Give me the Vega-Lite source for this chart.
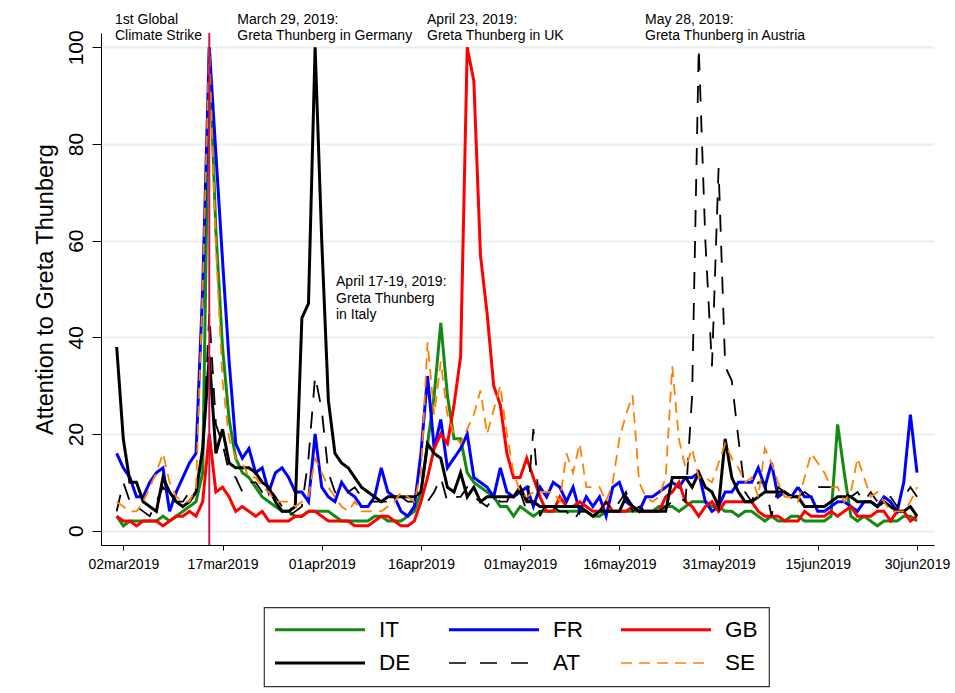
{
"$schema":"https://vega.github.io/schema/vega-lite/v6.json",
"width":833,"height":512,
"autosize":{"type":"none"},
"padding":{"left":101,"top":33,"right":21,"bottom":148},
"background":"white",
"config":{"view":{"stroke":null},"font":"Liberation Sans",
 "legend":{"orient":"none","legendX":163,"legendY":574.3,"direction":"horizontal","columns":3,"symbolType":"M-9,0H9","symbolSize":100,"symbolOffset":33.75,"labelOffset":47.7,"labelFontSize":22.5,"labelColor":"black","labelFont":"Liberation Sans","columnPadding":32,"rowPadding":10.5,"padding":11,"strokeColor":"#333333","strokeWidth":1.2,"symbolStrokeWidth":3,"gridAlign":"each"}},
"datasets":{
"series":[
{"date":"2019-03-01","country":"IT","value":3},{"date":"2019-03-02","country":"IT","value":1},{"date":"2019-03-03","country":"IT","value":2},{"date":"2019-03-04","country":"IT","value":2},{"date":"2019-03-05","country":"IT","value":2},{"date":"2019-03-06","country":"IT","value":2},{"date":"2019-03-07","country":"IT","value":2},{"date":"2019-03-08","country":"IT","value":3},{"date":"2019-03-09","country":"IT","value":2},{"date":"2019-03-10","country":"IT","value":3},
{"date":"2019-03-11","country":"IT","value":4},{"date":"2019-03-12","country":"IT","value":5},{"date":"2019-03-13","country":"IT","value":6},{"date":"2019-03-14","country":"IT","value":12},{"date":"2019-03-15","country":"IT","value":100},{"date":"2019-03-16","country":"IT","value":62},{"date":"2019-03-17","country":"IT","value":38},{"date":"2019-03-18","country":"IT","value":23},{"date":"2019-03-19","country":"IT","value":15},{"date":"2019-03-20","country":"IT","value":12},
{"date":"2019-03-21","country":"IT","value":11},{"date":"2019-03-22","country":"IT","value":9},{"date":"2019-03-23","country":"IT","value":7},{"date":"2019-03-24","country":"IT","value":6},{"date":"2019-03-25","country":"IT","value":5},{"date":"2019-03-26","country":"IT","value":4},{"date":"2019-03-27","country":"IT","value":4},{"date":"2019-03-28","country":"IT","value":3},{"date":"2019-03-29","country":"IT","value":3},{"date":"2019-03-30","country":"IT","value":4},
{"date":"2019-03-31","country":"IT","value":4},{"date":"2019-04-01","country":"IT","value":4},{"date":"2019-04-02","country":"IT","value":4},{"date":"2019-04-03","country":"IT","value":3},{"date":"2019-04-04","country":"IT","value":2},{"date":"2019-04-05","country":"IT","value":2},{"date":"2019-04-06","country":"IT","value":2},{"date":"2019-04-07","country":"IT","value":2},{"date":"2019-04-08","country":"IT","value":2},{"date":"2019-04-09","country":"IT","value":3},
{"date":"2019-04-10","country":"IT","value":3},{"date":"2019-04-11","country":"IT","value":2},{"date":"2019-04-12","country":"IT","value":2},{"date":"2019-04-13","country":"IT","value":2},{"date":"2019-04-14","country":"IT","value":3},{"date":"2019-04-15","country":"IT","value":4},{"date":"2019-04-16","country":"IT","value":8},{"date":"2019-04-17","country":"IT","value":18},{"date":"2019-04-18","country":"IT","value":28},{"date":"2019-04-19","country":"IT","value":43},
{"date":"2019-04-20","country":"IT","value":28},{"date":"2019-04-21","country":"IT","value":19},{"date":"2019-04-22","country":"IT","value":19},{"date":"2019-04-23","country":"IT","value":12},{"date":"2019-04-24","country":"IT","value":10},{"date":"2019-04-25","country":"IT","value":9},{"date":"2019-04-26","country":"IT","value":8},{"date":"2019-04-27","country":"IT","value":7},{"date":"2019-04-28","country":"IT","value":5},{"date":"2019-04-29","country":"IT","value":5},
{"date":"2019-04-30","country":"IT","value":3},{"date":"2019-05-01","country":"IT","value":5},{"date":"2019-05-02","country":"IT","value":4},{"date":"2019-05-03","country":"IT","value":3},{"date":"2019-05-04","country":"IT","value":4},{"date":"2019-05-05","country":"IT","value":4},{"date":"2019-05-06","country":"IT","value":4},{"date":"2019-05-07","country":"IT","value":4},{"date":"2019-05-08","country":"IT","value":4},{"date":"2019-05-09","country":"IT","value":4},
{"date":"2019-05-10","country":"IT","value":4},{"date":"2019-05-11","country":"IT","value":4},{"date":"2019-05-12","country":"IT","value":3},{"date":"2019-05-13","country":"IT","value":3},{"date":"2019-05-14","country":"IT","value":4},{"date":"2019-05-15","country":"IT","value":4},{"date":"2019-05-16","country":"IT","value":4},{"date":"2019-05-17","country":"IT","value":4},{"date":"2019-05-18","country":"IT","value":4},{"date":"2019-05-19","country":"IT","value":4},
{"date":"2019-05-20","country":"IT","value":4},{"date":"2019-05-21","country":"IT","value":4},{"date":"2019-05-22","country":"IT","value":5},{"date":"2019-05-23","country":"IT","value":5},{"date":"2019-05-24","country":"IT","value":5},{"date":"2019-05-25","country":"IT","value":4},{"date":"2019-05-26","country":"IT","value":5},{"date":"2019-05-27","country":"IT","value":6},{"date":"2019-05-28","country":"IT","value":6},{"date":"2019-05-29","country":"IT","value":6},
{"date":"2019-05-30","country":"IT","value":5},{"date":"2019-05-31","country":"IT","value":5},{"date":"2019-06-01","country":"IT","value":4},{"date":"2019-06-02","country":"IT","value":4},{"date":"2019-06-03","country":"IT","value":3},{"date":"2019-06-04","country":"IT","value":4},{"date":"2019-06-05","country":"IT","value":4},{"date":"2019-06-06","country":"IT","value":3},{"date":"2019-06-07","country":"IT","value":2},{"date":"2019-06-08","country":"IT","value":3},
{"date":"2019-06-09","country":"IT","value":2},{"date":"2019-06-10","country":"IT","value":2},{"date":"2019-06-11","country":"IT","value":3},{"date":"2019-06-12","country":"IT","value":3},{"date":"2019-06-13","country":"IT","value":2},{"date":"2019-06-14","country":"IT","value":2},{"date":"2019-06-15","country":"IT","value":2},{"date":"2019-06-16","country":"IT","value":2},{"date":"2019-06-17","country":"IT","value":3},{"date":"2019-06-18","country":"IT","value":22},
{"date":"2019-06-19","country":"IT","value":12},{"date":"2019-06-20","country":"IT","value":3},{"date":"2019-06-21","country":"IT","value":2},{"date":"2019-06-22","country":"IT","value":3},{"date":"2019-06-23","country":"IT","value":2},{"date":"2019-06-24","country":"IT","value":1},{"date":"2019-06-25","country":"IT","value":2},{"date":"2019-06-26","country":"IT","value":2},{"date":"2019-06-27","country":"IT","value":2},{"date":"2019-06-28","country":"IT","value":3},
{"date":"2019-06-29","country":"IT","value":3},{"date":"2019-06-30","country":"IT","value":2},
{"date":"2019-03-01","country":"FR","value":16},{"date":"2019-03-02","country":"FR","value":13},{"date":"2019-03-03","country":"FR","value":11},{"date":"2019-03-04","country":"FR","value":7},{"date":"2019-03-05","country":"FR","value":7},{"date":"2019-03-06","country":"FR","value":10},{"date":"2019-03-07","country":"FR","value":12},{"date":"2019-03-08","country":"FR","value":13},{"date":"2019-03-09","country":"FR","value":4},{"date":"2019-03-10","country":"FR","value":8},
{"date":"2019-03-11","country":"FR","value":11},{"date":"2019-03-12","country":"FR","value":14},{"date":"2019-03-13","country":"FR","value":16},{"date":"2019-03-14","country":"FR","value":50},{"date":"2019-03-15","country":"FR","value":100},{"date":"2019-03-16","country":"FR","value":78},{"date":"2019-03-17","country":"FR","value":56},{"date":"2019-03-18","country":"FR","value":35},{"date":"2019-03-19","country":"FR","value":18},{"date":"2019-03-20","country":"FR","value":15},
{"date":"2019-03-21","country":"FR","value":17},{"date":"2019-03-22","country":"FR","value":12},{"date":"2019-03-23","country":"FR","value":13},{"date":"2019-03-24","country":"FR","value":8},{"date":"2019-03-25","country":"FR","value":12},{"date":"2019-03-26","country":"FR","value":13},{"date":"2019-03-27","country":"FR","value":11},{"date":"2019-03-28","country":"FR","value":8},{"date":"2019-03-29","country":"FR","value":8},{"date":"2019-03-30","country":"FR","value":6},
{"date":"2019-03-31","country":"FR","value":20},{"date":"2019-04-01","country":"FR","value":9},{"date":"2019-04-02","country":"FR","value":7},{"date":"2019-04-03","country":"FR","value":6},{"date":"2019-04-04","country":"FR","value":10},{"date":"2019-04-05","country":"FR","value":8},{"date":"2019-04-06","country":"FR","value":7},{"date":"2019-04-07","country":"FR","value":5},{"date":"2019-04-08","country":"FR","value":5},{"date":"2019-04-09","country":"FR","value":7},
{"date":"2019-04-10","country":"FR","value":13},{"date":"2019-04-11","country":"FR","value":8},{"date":"2019-04-12","country":"FR","value":7},{"date":"2019-04-13","country":"FR","value":4},{"date":"2019-04-14","country":"FR","value":3},{"date":"2019-04-15","country":"FR","value":5},{"date":"2019-04-16","country":"FR","value":16},{"date":"2019-04-17","country":"FR","value":32},{"date":"2019-04-18","country":"FR","value":17},{"date":"2019-04-19","country":"FR","value":23},
{"date":"2019-04-20","country":"FR","value":13},{"date":"2019-04-21","country":"FR","value":15},{"date":"2019-04-22","country":"FR","value":17},{"date":"2019-04-23","country":"FR","value":20},{"date":"2019-04-24","country":"FR","value":11},{"date":"2019-04-25","country":"FR","value":10},{"date":"2019-04-26","country":"FR","value":9},{"date":"2019-04-27","country":"FR","value":7},{"date":"2019-04-28","country":"FR","value":13},{"date":"2019-04-29","country":"FR","value":8},
{"date":"2019-04-30","country":"FR","value":7},{"date":"2019-05-01","country":"FR","value":8},{"date":"2019-05-02","country":"FR","value":9},{"date":"2019-05-03","country":"FR","value":5},{"date":"2019-05-04","country":"FR","value":9},{"date":"2019-05-05","country":"FR","value":7},{"date":"2019-05-06","country":"FR","value":10},{"date":"2019-05-07","country":"FR","value":9},{"date":"2019-05-08","country":"FR","value":6},{"date":"2019-05-09","country":"FR","value":9},
{"date":"2019-05-10","country":"FR","value":4},{"date":"2019-05-11","country":"FR","value":7},{"date":"2019-05-12","country":"FR","value":5},{"date":"2019-05-13","country":"FR","value":7},{"date":"2019-05-14","country":"FR","value":3},{"date":"2019-05-15","country":"FR","value":9},{"date":"2019-05-16","country":"FR","value":10},{"date":"2019-05-17","country":"FR","value":6},{"date":"2019-05-18","country":"FR","value":5},{"date":"2019-05-19","country":"FR","value":4},
{"date":"2019-05-20","country":"FR","value":7},{"date":"2019-05-21","country":"FR","value":7},{"date":"2019-05-22","country":"FR","value":8},{"date":"2019-05-23","country":"FR","value":9},{"date":"2019-05-24","country":"FR","value":10},{"date":"2019-05-25","country":"FR","value":9},{"date":"2019-05-26","country":"FR","value":11},{"date":"2019-05-27","country":"FR","value":11},{"date":"2019-05-28","country":"FR","value":12},{"date":"2019-05-29","country":"FR","value":6},
{"date":"2019-05-30","country":"FR","value":4},{"date":"2019-05-31","country":"FR","value":5},{"date":"2019-06-01","country":"FR","value":8},{"date":"2019-06-02","country":"FR","value":8},{"date":"2019-06-03","country":"FR","value":10},{"date":"2019-06-04","country":"FR","value":10},{"date":"2019-06-05","country":"FR","value":10},{"date":"2019-06-06","country":"FR","value":13},{"date":"2019-06-07","country":"FR","value":9},{"date":"2019-06-08","country":"FR","value":14},
{"date":"2019-06-09","country":"FR","value":7},{"date":"2019-06-10","country":"FR","value":8},{"date":"2019-06-11","country":"FR","value":7},{"date":"2019-06-12","country":"FR","value":9},{"date":"2019-06-13","country":"FR","value":7},{"date":"2019-06-14","country":"FR","value":7},{"date":"2019-06-15","country":"FR","value":4},{"date":"2019-06-16","country":"FR","value":4},{"date":"2019-06-17","country":"FR","value":5},{"date":"2019-06-18","country":"FR","value":6},
{"date":"2019-06-19","country":"FR","value":6},{"date":"2019-06-20","country":"FR","value":5},{"date":"2019-06-21","country":"FR","value":4},{"date":"2019-06-22","country":"FR","value":6},{"date":"2019-06-23","country":"FR","value":6},{"date":"2019-06-24","country":"FR","value":5},{"date":"2019-06-25","country":"FR","value":7},{"date":"2019-06-26","country":"FR","value":6},{"date":"2019-06-27","country":"FR","value":4},{"date":"2019-06-28","country":"FR","value":10},
{"date":"2019-06-29","country":"FR","value":24},{"date":"2019-06-30","country":"FR","value":12},
{"date":"2019-03-01","country":"GB","value":3},{"date":"2019-03-02","country":"GB","value":2},{"date":"2019-03-03","country":"GB","value":2},{"date":"2019-03-04","country":"GB","value":1},{"date":"2019-03-05","country":"GB","value":2},{"date":"2019-03-06","country":"GB","value":2},{"date":"2019-03-07","country":"GB","value":2},{"date":"2019-03-08","country":"GB","value":1},{"date":"2019-03-09","country":"GB","value":2},{"date":"2019-03-10","country":"GB","value":3},
{"date":"2019-03-11","country":"GB","value":3},{"date":"2019-03-12","country":"GB","value":4},{"date":"2019-03-13","country":"GB","value":3},{"date":"2019-03-14","country":"GB","value":6},{"date":"2019-03-15","country":"GB","value":20},{"date":"2019-03-16","country":"GB","value":8},{"date":"2019-03-17","country":"GB","value":9},{"date":"2019-03-18","country":"GB","value":7},{"date":"2019-03-19","country":"GB","value":4},{"date":"2019-03-20","country":"GB","value":5},
{"date":"2019-03-21","country":"GB","value":4},{"date":"2019-03-22","country":"GB","value":3},{"date":"2019-03-23","country":"GB","value":4},{"date":"2019-03-24","country":"GB","value":2},{"date":"2019-03-25","country":"GB","value":2},{"date":"2019-03-26","country":"GB","value":2},{"date":"2019-03-27","country":"GB","value":2},{"date":"2019-03-28","country":"GB","value":3},{"date":"2019-03-29","country":"GB","value":3},{"date":"2019-03-30","country":"GB","value":4},
{"date":"2019-03-31","country":"GB","value":4},{"date":"2019-04-01","country":"GB","value":3},{"date":"2019-04-02","country":"GB","value":2},{"date":"2019-04-03","country":"GB","value":2},{"date":"2019-04-04","country":"GB","value":2},{"date":"2019-04-05","country":"GB","value":2},{"date":"2019-04-06","country":"GB","value":1},{"date":"2019-04-07","country":"GB","value":1},{"date":"2019-04-08","country":"GB","value":1},{"date":"2019-04-09","country":"GB","value":2},
{"date":"2019-04-10","country":"GB","value":3},{"date":"2019-04-11","country":"GB","value":3},{"date":"2019-04-12","country":"GB","value":2},{"date":"2019-04-13","country":"GB","value":1},{"date":"2019-04-14","country":"GB","value":1},{"date":"2019-04-15","country":"GB","value":2},{"date":"2019-04-16","country":"GB","value":6},{"date":"2019-04-17","country":"GB","value":11},{"date":"2019-04-18","country":"GB","value":17},{"date":"2019-04-19","country":"GB","value":20},
{"date":"2019-04-20","country":"GB","value":18},{"date":"2019-04-21","country":"GB","value":26},{"date":"2019-04-22","country":"GB","value":36},{"date":"2019-04-23","country":"GB","value":100},{"date":"2019-04-24","country":"GB","value":93},{"date":"2019-04-25","country":"GB","value":57},{"date":"2019-04-26","country":"GB","value":45},{"date":"2019-04-27","country":"GB","value":30},{"date":"2019-04-28","country":"GB","value":26},{"date":"2019-04-29","country":"GB","value":16},
{"date":"2019-04-30","country":"GB","value":11},{"date":"2019-05-01","country":"GB","value":11},{"date":"2019-05-02","country":"GB","value":15},{"date":"2019-05-03","country":"GB","value":11},{"date":"2019-05-04","country":"GB","value":7},{"date":"2019-05-05","country":"GB","value":4},{"date":"2019-05-06","country":"GB","value":4},{"date":"2019-05-07","country":"GB","value":7},{"date":"2019-05-08","country":"GB","value":5},{"date":"2019-05-09","country":"GB","value":5},
{"date":"2019-05-10","country":"GB","value":6},{"date":"2019-05-11","country":"GB","value":5},{"date":"2019-05-12","country":"GB","value":4},{"date":"2019-05-13","country":"GB","value":4},{"date":"2019-05-14","country":"GB","value":6},{"date":"2019-05-15","country":"GB","value":4},{"date":"2019-05-16","country":"GB","value":4},{"date":"2019-05-17","country":"GB","value":4},{"date":"2019-05-18","country":"GB","value":5},{"date":"2019-05-19","country":"GB","value":4},
{"date":"2019-05-20","country":"GB","value":4},{"date":"2019-05-21","country":"GB","value":4},{"date":"2019-05-22","country":"GB","value":4},{"date":"2019-05-23","country":"GB","value":7},{"date":"2019-05-24","country":"GB","value":8},{"date":"2019-05-25","country":"GB","value":10},{"date":"2019-05-26","country":"GB","value":6},{"date":"2019-05-27","country":"GB","value":5},{"date":"2019-05-28","country":"GB","value":3},{"date":"2019-05-29","country":"GB","value":5},
{"date":"2019-05-30","country":"GB","value":6},{"date":"2019-05-31","country":"GB","value":4},{"date":"2019-06-01","country":"GB","value":6},{"date":"2019-06-02","country":"GB","value":6},{"date":"2019-06-03","country":"GB","value":6},{"date":"2019-06-04","country":"GB","value":6},{"date":"2019-06-05","country":"GB","value":6},{"date":"2019-06-06","country":"GB","value":4},{"date":"2019-06-07","country":"GB","value":3},{"date":"2019-06-08","country":"GB","value":3},
{"date":"2019-06-09","country":"GB","value":3},{"date":"2019-06-10","country":"GB","value":2},{"date":"2019-06-11","country":"GB","value":2},{"date":"2019-06-12","country":"GB","value":2},{"date":"2019-06-13","country":"GB","value":4},{"date":"2019-06-14","country":"GB","value":3},{"date":"2019-06-15","country":"GB","value":3},{"date":"2019-06-16","country":"GB","value":3},{"date":"2019-06-17","country":"GB","value":4},{"date":"2019-06-18","country":"GB","value":3},
{"date":"2019-06-19","country":"GB","value":4},{"date":"2019-06-20","country":"GB","value":5},{"date":"2019-06-21","country":"GB","value":3},{"date":"2019-06-22","country":"GB","value":3},{"date":"2019-06-23","country":"GB","value":3},{"date":"2019-06-24","country":"GB","value":4},{"date":"2019-06-25","country":"GB","value":4},{"date":"2019-06-26","country":"GB","value":2},{"date":"2019-06-27","country":"GB","value":4},{"date":"2019-06-28","country":"GB","value":4},
{"date":"2019-06-29","country":"GB","value":2},{"date":"2019-06-30","country":"GB","value":3},
{"date":"2019-03-01","country":"DE","value":38},{"date":"2019-03-02","country":"DE","value":19},{"date":"2019-03-03","country":"DE","value":10},{"date":"2019-03-04","country":"DE","value":10},{"date":"2019-03-05","country":"DE","value":6},{"date":"2019-03-06","country":"DE","value":5},{"date":"2019-03-07","country":"DE","value":4},{"date":"2019-03-08","country":"DE","value":11},{"date":"2019-03-09","country":"DE","value":8},{"date":"2019-03-10","country":"DE","value":6},
{"date":"2019-03-11","country":"DE","value":5},{"date":"2019-03-12","country":"DE","value":6},{"date":"2019-03-13","country":"DE","value":8},{"date":"2019-03-14","country":"DE","value":17},{"date":"2019-03-15","country":"DE","value":36},{"date":"2019-03-16","country":"DE","value":16},{"date":"2019-03-17","country":"DE","value":21},{"date":"2019-03-18","country":"DE","value":14},{"date":"2019-03-19","country":"DE","value":13},{"date":"2019-03-20","country":"DE","value":13},
{"date":"2019-03-21","country":"DE","value":13},{"date":"2019-03-22","country":"DE","value":12},{"date":"2019-03-23","country":"DE","value":10},{"date":"2019-03-24","country":"DE","value":9},{"date":"2019-03-25","country":"DE","value":6},{"date":"2019-03-26","country":"DE","value":4},{"date":"2019-03-27","country":"DE","value":4},{"date":"2019-03-28","country":"DE","value":5},{"date":"2019-03-29","country":"DE","value":44},{"date":"2019-03-30","country":"DE","value":47},
{"date":"2019-03-31","country":"DE","value":100},{"date":"2019-04-01","country":"DE","value":60},{"date":"2019-04-02","country":"DE","value":27},{"date":"2019-04-03","country":"DE","value":16},{"date":"2019-04-04","country":"DE","value":14},{"date":"2019-04-05","country":"DE","value":13},{"date":"2019-04-06","country":"DE","value":11},{"date":"2019-04-07","country":"DE","value":9},{"date":"2019-04-08","country":"DE","value":8},{"date":"2019-04-09","country":"DE","value":7},
{"date":"2019-04-10","country":"DE","value":6},{"date":"2019-04-11","country":"DE","value":7},{"date":"2019-04-12","country":"DE","value":7},{"date":"2019-04-13","country":"DE","value":7},{"date":"2019-04-14","country":"DE","value":7},{"date":"2019-04-15","country":"DE","value":7},{"date":"2019-04-16","country":"DE","value":8},{"date":"2019-04-17","country":"DE","value":18},{"date":"2019-04-18","country":"DE","value":16},{"date":"2019-04-19","country":"DE","value":15},
{"date":"2019-04-20","country":"DE","value":9},{"date":"2019-04-21","country":"DE","value":8},{"date":"2019-04-22","country":"DE","value":12},{"date":"2019-04-23","country":"DE","value":7},{"date":"2019-04-24","country":"DE","value":9},{"date":"2019-04-25","country":"DE","value":6},{"date":"2019-04-26","country":"DE","value":7},{"date":"2019-04-27","country":"DE","value":7},{"date":"2019-04-28","country":"DE","value":7},{"date":"2019-04-29","country":"DE","value":7},
{"date":"2019-04-30","country":"DE","value":7},{"date":"2019-05-01","country":"DE","value":9},{"date":"2019-05-02","country":"DE","value":6},{"date":"2019-05-03","country":"DE","value":6},{"date":"2019-05-04","country":"DE","value":5},{"date":"2019-05-05","country":"DE","value":5},{"date":"2019-05-06","country":"DE","value":5},{"date":"2019-05-07","country":"DE","value":5},{"date":"2019-05-08","country":"DE","value":5},{"date":"2019-05-09","country":"DE","value":5},
{"date":"2019-05-10","country":"DE","value":5},{"date":"2019-05-11","country":"DE","value":4},{"date":"2019-05-12","country":"DE","value":3},{"date":"2019-05-13","country":"DE","value":4},{"date":"2019-05-14","country":"DE","value":4},{"date":"2019-05-15","country":"DE","value":4},{"date":"2019-05-16","country":"DE","value":4},{"date":"2019-05-17","country":"DE","value":7},{"date":"2019-05-18","country":"DE","value":5},{"date":"2019-05-19","country":"DE","value":4},
{"date":"2019-05-20","country":"DE","value":4},{"date":"2019-05-21","country":"DE","value":4},{"date":"2019-05-22","country":"DE","value":4},{"date":"2019-05-23","country":"DE","value":4},{"date":"2019-05-24","country":"DE","value":11},{"date":"2019-05-25","country":"DE","value":11},{"date":"2019-05-26","country":"DE","value":11},{"date":"2019-05-27","country":"DE","value":9},{"date":"2019-05-28","country":"DE","value":12},{"date":"2019-05-29","country":"DE","value":9},
{"date":"2019-05-30","country":"DE","value":8},{"date":"2019-05-31","country":"DE","value":5},{"date":"2019-06-01","country":"DE","value":19},{"date":"2019-06-02","country":"DE","value":11},{"date":"2019-06-03","country":"DE","value":8},{"date":"2019-06-04","country":"DE","value":6},{"date":"2019-06-05","country":"DE","value":6},{"date":"2019-06-06","country":"DE","value":7},{"date":"2019-06-07","country":"DE","value":8},{"date":"2019-06-08","country":"DE","value":8},
{"date":"2019-06-09","country":"DE","value":8},{"date":"2019-06-10","country":"DE","value":8},{"date":"2019-06-11","country":"DE","value":7},{"date":"2019-06-12","country":"DE","value":7},{"date":"2019-06-13","country":"DE","value":5},{"date":"2019-06-14","country":"DE","value":5},{"date":"2019-06-15","country":"DE","value":5},{"date":"2019-06-16","country":"DE","value":5},{"date":"2019-06-17","country":"DE","value":6},{"date":"2019-06-18","country":"DE","value":7},
{"date":"2019-06-19","country":"DE","value":7},{"date":"2019-06-20","country":"DE","value":7},{"date":"2019-06-21","country":"DE","value":6},{"date":"2019-06-22","country":"DE","value":6},{"date":"2019-06-23","country":"DE","value":6},{"date":"2019-06-24","country":"DE","value":5},{"date":"2019-06-25","country":"DE","value":6},{"date":"2019-06-26","country":"DE","value":5},{"date":"2019-06-27","country":"DE","value":4},{"date":"2019-06-28","country":"DE","value":4},
{"date":"2019-06-29","country":"DE","value":5},{"date":"2019-06-30","country":"DE","value":3},
{"date":"2019-03-01","country":"AT","value":4},{"date":"2019-03-02","country":"AT","value":10},{"date":"2019-03-03","country":"AT","value":6},{"date":"2019-03-04","country":"AT","value":5},{"date":"2019-03-05","country":"AT","value":4},{"date":"2019-03-06","country":"AT","value":3},{"date":"2019-03-07","country":"AT","value":6},{"date":"2019-03-08","country":"AT","value":9},{"date":"2019-03-09","country":"AT","value":7},{"date":"2019-03-10","country":"AT","value":6},
{"date":"2019-03-11","country":"AT","value":6},{"date":"2019-03-12","country":"AT","value":8},{"date":"2019-03-13","country":"AT","value":9},{"date":"2019-03-14","country":"AT","value":15},{"date":"2019-03-15","country":"AT","value":45},{"date":"2019-03-16","country":"AT","value":22},{"date":"2019-03-17","country":"AT","value":18},{"date":"2019-03-18","country":"AT","value":12},{"date":"2019-03-19","country":"AT","value":11},{"date":"2019-03-20","country":"AT","value":8},
{"date":"2019-03-21","country":"AT","value":10},{"date":"2019-03-22","country":"AT","value":10},{"date":"2019-03-23","country":"AT","value":8},{"date":"2019-03-24","country":"AT","value":9},{"date":"2019-03-25","country":"AT","value":7},{"date":"2019-03-26","country":"AT","value":5},{"date":"2019-03-27","country":"AT","value":3},{"date":"2019-03-28","country":"AT","value":4},{"date":"2019-03-29","country":"AT","value":5},{"date":"2019-03-30","country":"AT","value":15},
{"date":"2019-03-31","country":"AT","value":32},{"date":"2019-04-01","country":"AT","value":25},{"date":"2019-04-02","country":"AT","value":12},{"date":"2019-04-03","country":"AT","value":8},{"date":"2019-04-04","country":"AT","value":7},{"date":"2019-04-05","country":"AT","value":8},{"date":"2019-04-06","country":"AT","value":9},{"date":"2019-04-07","country":"AT","value":7},{"date":"2019-04-08","country":"AT","value":6},{"date":"2019-04-09","country":"AT","value":6},
{"date":"2019-04-10","country":"AT","value":6},{"date":"2019-04-11","country":"AT","value":6},{"date":"2019-04-12","country":"AT","value":7},{"date":"2019-04-13","country":"AT","value":7},{"date":"2019-04-14","country":"AT","value":6},{"date":"2019-04-15","country":"AT","value":6},{"date":"2019-04-16","country":"AT","value":6},{"date":"2019-04-17","country":"AT","value":6},{"date":"2019-04-18","country":"AT","value":8},{"date":"2019-04-19","country":"AT","value":11},
{"date":"2019-04-20","country":"AT","value":6},{"date":"2019-04-21","country":"AT","value":7},{"date":"2019-04-22","country":"AT","value":7},{"date":"2019-04-23","country":"AT","value":9},{"date":"2019-04-24","country":"AT","value":7},{"date":"2019-04-25","country":"AT","value":6},{"date":"2019-04-26","country":"AT","value":5},{"date":"2019-04-27","country":"AT","value":7},{"date":"2019-04-28","country":"AT","value":6},{"date":"2019-04-29","country":"AT","value":6},
{"date":"2019-04-30","country":"AT","value":9},{"date":"2019-05-01","country":"AT","value":8},{"date":"2019-05-02","country":"AT","value":4},{"date":"2019-05-03","country":"AT","value":21},{"date":"2019-05-04","country":"AT","value":3},{"date":"2019-05-05","country":"AT","value":6},{"date":"2019-05-06","country":"AT","value":5},{"date":"2019-05-07","country":"AT","value":4},{"date":"2019-05-08","country":"AT","value":4},{"date":"2019-05-09","country":"AT","value":2},
{"date":"2019-05-10","country":"AT","value":4},{"date":"2019-05-11","country":"AT","value":4},{"date":"2019-05-12","country":"AT","value":3},{"date":"2019-05-13","country":"AT","value":4},{"date":"2019-05-14","country":"AT","value":6},{"date":"2019-05-15","country":"AT","value":4},{"date":"2019-05-16","country":"AT","value":6},{"date":"2019-05-17","country":"AT","value":8},{"date":"2019-05-18","country":"AT","value":4},{"date":"2019-05-19","country":"AT","value":5},
{"date":"2019-05-20","country":"AT","value":4},{"date":"2019-05-21","country":"AT","value":4},{"date":"2019-05-22","country":"AT","value":4},{"date":"2019-05-23","country":"AT","value":5},{"date":"2019-05-24","country":"AT","value":6},{"date":"2019-05-25","country":"AT","value":7},{"date":"2019-05-26","country":"AT","value":6},{"date":"2019-05-27","country":"AT","value":28},{"date":"2019-05-28","country":"AT","value":100},{"date":"2019-05-29","country":"AT","value":60},
{"date":"2019-05-30","country":"AT","value":34},{"date":"2019-05-31","country":"AT","value":75},{"date":"2019-06-01","country":"AT","value":34},{"date":"2019-06-02","country":"AT","value":31},{"date":"2019-06-03","country":"AT","value":19},{"date":"2019-06-04","country":"AT","value":8},{"date":"2019-06-05","country":"AT","value":6},{"date":"2019-06-06","country":"AT","value":10},{"date":"2019-06-07","country":"AT","value":10},{"date":"2019-06-08","country":"AT","value":3},
{"date":"2019-06-09","country":"AT","value":9},{"date":"2019-06-10","country":"AT","value":8},{"date":"2019-06-11","country":"AT","value":8},{"date":"2019-06-12","country":"AT","value":7},{"date":"2019-06-13","country":"AT","value":8},{"date":"2019-06-14","country":"AT","value":7},{"date":"2019-06-15","country":"AT","value":9},{"date":"2019-06-16","country":"AT","value":9},{"date":"2019-06-17","country":"AT","value":9},{"date":"2019-06-18","country":"AT","value":9},
{"date":"2019-06-19","country":"AT","value":8},{"date":"2019-06-20","country":"AT","value":7},{"date":"2019-06-21","country":"AT","value":8},{"date":"2019-06-22","country":"AT","value":6},{"date":"2019-06-23","country":"AT","value":8},{"date":"2019-06-24","country":"AT","value":6},{"date":"2019-06-25","country":"AT","value":7},{"date":"2019-06-26","country":"AT","value":7},{"date":"2019-06-27","country":"AT","value":5},{"date":"2019-06-28","country":"AT","value":7},
{"date":"2019-06-29","country":"AT","value":9},{"date":"2019-06-30","country":"AT","value":7},
{"date":"2019-03-01","country":"SE","value":6},{"date":"2019-03-02","country":"SE","value":5},{"date":"2019-03-03","country":"SE","value":4},{"date":"2019-03-04","country":"SE","value":4},{"date":"2019-03-05","country":"SE","value":6},{"date":"2019-03-06","country":"SE","value":9},{"date":"2019-03-07","country":"SE","value":12},{"date":"2019-03-08","country":"SE","value":16},{"date":"2019-03-09","country":"SE","value":10},{"date":"2019-03-10","country":"SE","value":7},
{"date":"2019-03-11","country":"SE","value":6},{"date":"2019-03-12","country":"SE","value":6},{"date":"2019-03-13","country":"SE","value":9},{"date":"2019-03-14","country":"SE","value":50},{"date":"2019-03-15","country":"SE","value":100},{"date":"2019-03-16","country":"SE","value":59},{"date":"2019-03-17","country":"SE","value":31},{"date":"2019-03-18","country":"SE","value":19},{"date":"2019-03-19","country":"SE","value":15},{"date":"2019-03-20","country":"SE","value":14},
{"date":"2019-03-21","country":"SE","value":11},{"date":"2019-03-22","country":"SE","value":11},{"date":"2019-03-23","country":"SE","value":9},{"date":"2019-03-24","country":"SE","value":8},{"date":"2019-03-25","country":"SE","value":6},{"date":"2019-03-26","country":"SE","value":6},{"date":"2019-03-27","country":"SE","value":6},{"date":"2019-03-28","country":"SE","value":5},{"date":"2019-03-29","country":"SE","value":6},{"date":"2019-03-30","country":"SE","value":7},
{"date":"2019-03-31","country":"SE","value":15},{"date":"2019-04-01","country":"SE","value":12},{"date":"2019-04-02","country":"SE","value":9},{"date":"2019-04-03","country":"SE","value":7},{"date":"2019-04-04","country":"SE","value":5},{"date":"2019-04-05","country":"SE","value":4},{"date":"2019-04-06","country":"SE","value":6},{"date":"2019-04-07","country":"SE","value":4},{"date":"2019-04-08","country":"SE","value":4},{"date":"2019-04-09","country":"SE","value":4},
{"date":"2019-04-10","country":"SE","value":4},{"date":"2019-04-11","country":"SE","value":5},{"date":"2019-04-12","country":"SE","value":6},{"date":"2019-04-13","country":"SE","value":8},{"date":"2019-04-14","country":"SE","value":7},{"date":"2019-04-15","country":"SE","value":6},{"date":"2019-04-16","country":"SE","value":12},{"date":"2019-04-17","country":"SE","value":39},{"date":"2019-04-18","country":"SE","value":24},{"date":"2019-04-19","country":"SE","value":35},
{"date":"2019-04-20","country":"SE","value":24},{"date":"2019-04-21","country":"SE","value":20},{"date":"2019-04-22","country":"SE","value":18},{"date":"2019-04-23","country":"SE","value":21},{"date":"2019-04-24","country":"SE","value":24},{"date":"2019-04-25","country":"SE","value":29},{"date":"2019-04-26","country":"SE","value":20},{"date":"2019-04-27","country":"SE","value":25},{"date":"2019-04-28","country":"SE","value":30},{"date":"2019-04-29","country":"SE","value":20},
{"date":"2019-04-30","country":"SE","value":12},{"date":"2019-05-01","country":"SE","value":8},{"date":"2019-05-02","country":"SE","value":7},{"date":"2019-05-03","country":"SE","value":8},{"date":"2019-05-04","country":"SE","value":8},{"date":"2019-05-05","country":"SE","value":8},{"date":"2019-05-06","country":"SE","value":8},{"date":"2019-05-07","country":"SE","value":6},{"date":"2019-05-08","country":"SE","value":16},{"date":"2019-05-09","country":"SE","value":12},
{"date":"2019-05-10","country":"SE","value":18},{"date":"2019-05-11","country":"SE","value":9},{"date":"2019-05-12","country":"SE","value":9},{"date":"2019-05-13","country":"SE","value":9},{"date":"2019-05-14","country":"SE","value":6},{"date":"2019-05-15","country":"SE","value":10},{"date":"2019-05-16","country":"SE","value":19},{"date":"2019-05-17","country":"SE","value":24},{"date":"2019-05-18","country":"SE","value":28},{"date":"2019-05-19","country":"SE","value":10},
{"date":"2019-05-20","country":"SE","value":7},{"date":"2019-05-21","country":"SE","value":6},{"date":"2019-05-22","country":"SE","value":7},{"date":"2019-05-23","country":"SE","value":11},{"date":"2019-05-24","country":"SE","value":34},{"date":"2019-05-25","country":"SE","value":19},{"date":"2019-05-26","country":"SE","value":13},{"date":"2019-05-27","country":"SE","value":17},{"date":"2019-05-28","country":"SE","value":11},{"date":"2019-05-29","country":"SE","value":11},
{"date":"2019-05-30","country":"SE","value":10},{"date":"2019-05-31","country":"SE","value":14},{"date":"2019-06-01","country":"SE","value":18},{"date":"2019-06-02","country":"SE","value":15},{"date":"2019-06-03","country":"SE","value":13},{"date":"2019-06-04","country":"SE","value":10},{"date":"2019-06-05","country":"SE","value":11},{"date":"2019-06-06","country":"SE","value":7},{"date":"2019-06-07","country":"SE","value":17},{"date":"2019-06-08","country":"SE","value":14},
{"date":"2019-06-09","country":"SE","value":10},{"date":"2019-06-10","country":"SE","value":7},{"date":"2019-06-11","country":"SE","value":7},{"date":"2019-06-12","country":"SE","value":6},{"date":"2019-06-13","country":"SE","value":11},{"date":"2019-06-14","country":"SE","value":16},{"date":"2019-06-15","country":"SE","value":14},{"date":"2019-06-16","country":"SE","value":12},{"date":"2019-06-17","country":"SE","value":9},{"date":"2019-06-18","country":"SE","value":9},
{"date":"2019-06-19","country":"SE","value":6},{"date":"2019-06-20","country":"SE","value":8},{"date":"2019-06-21","country":"SE","value":15},{"date":"2019-06-22","country":"SE","value":11},{"date":"2019-06-23","country":"SE","value":7},{"date":"2019-06-24","country":"SE","value":8},{"date":"2019-06-25","country":"SE","value":6},{"date":"2019-06-26","country":"SE","value":4},{"date":"2019-06-27","country":"SE","value":4},{"date":"2019-06-28","country":"SE","value":4},
{"date":"2019-06-29","country":"SE","value":6},{"date":"2019-06-30","country":"SE","value":9}
],
"events":[{"date":"2019-03-15","label":"1st Global Climate Strike"}],
"notes":[
{"date":"2019-02-28T17:53:00Z","value":104.92,"label":"1st Global|Climate Strike"},
{"date":"2019-03-19T05:40:00Z","value":104.92,"label":"March 29, 2019:|Greta Thunberg in Germany"},
{"date":"2019-04-16T22:00:00Z","value":104.92,"label":"April 23, 2019:|Greta Thunberg in UK"},
{"date":"2019-05-19T21:04:00Z","value":104.92,"label":"May 28, 2019:|Greta Thunberg in Austria"},
{"date":"2019-04-03T03:49:00Z","value":50.52,"label":"April 17-19, 2019:|Greta Thunberg|in Italy"}
]
},
"layer":[
{"data":{"name":"series"},
 "mark":{"type":"line"},
 "encoding":{
  "x":{"field":"date","type":"temporal",
   "scale":{"type":"utc","domain":[1551193459200,1562074848000],"nice":false},
   "axis":{"title":null,"grid":false,"values":[1551484800000,1552780800000,1554076800000,1555372800000,1556668800000,1557964800000,1559260800000,1560556800000,1561852800000],
    "labelExpr":"lower(utcFormat(datum.value,'%d%b%Y'))","labelFontSize":14,"labelColor":"black","labelFont":"Liberation Sans","labelFlush":false,"labelOverlap":false,"labelPadding":7,
    "tickSize":5,"tickColor":"black","domainColor":"black","domainWidth":1}},
  "y":{"field":"value","type":"quantitative",
   "scale":{"domain":[-2.96,102.96],"nice":false,"zero":false},
   "axis":{"title":"Attention to Greta Thunberg","titleFontSize":23.5,"titleFontWeight":"normal","titleColor":"black","titleFont":"Liberation Sans","titlePadding":8,
    "values":[0,20,40,60,80,100],"labelAngle":270,"labelAlign":"center","labelBaseline":"bottom","labelFontSize":21,"labelColor":"black","labelFont":"Liberation Sans","labelPadding":6,
    "tickSize":9,"tickColor":"black","domainColor":"black","domainWidth":1,"grid":true,"gridColor":"#e8eff1","gridWidth":2}},
  "color":{"field":"country","type":"nominal",
   "scale":{"domain":["IT","FR","GB","DE","AT","SE"],"range":["#138a13","#0000ff","#ff0000","#000000","#000000","#ff8000"]},
   "legend":{"title":null,"encode":{"symbols":{"update":{"strokeWidth":{"signal":"datum.value === 'AT' || datum.value === 'SE' ? 1.6 : 3"}}}}}},
  "strokeDash":{"field":"country","type":"nominal",
   "scale":{"domain":["IT","FR","GB","DE","AT","SE"],"range":[[1,0],[1,0],[1,0],[1,0],[17,14],[11,7]]},
   "legend":{"title":null}},
  "strokeWidth":{"condition":{"test":"datum.country === 'AT' || datum.country === 'SE'","value":1.8},"value":3}
 }},
{"data":{"name":"events"},
 "mark":{"type":"rule","color":"#c8174b","strokeWidth":2},
 "encoding":{"x":{"field":"date","type":"temporal"}}},
{"data":{"name":"notes"},
 "mark":{"type":"text","align":"left","baseline":"alphabetic","lineBreak":"|","fontSize":14,"lineHeight":16.2,"font":"Liberation Sans","color":"black"},
 "encoding":{"x":{"field":"date","type":"temporal"},"y":{"field":"value","type":"quantitative"},"text":{"field":"label","type":"nominal"}}}
]
}
